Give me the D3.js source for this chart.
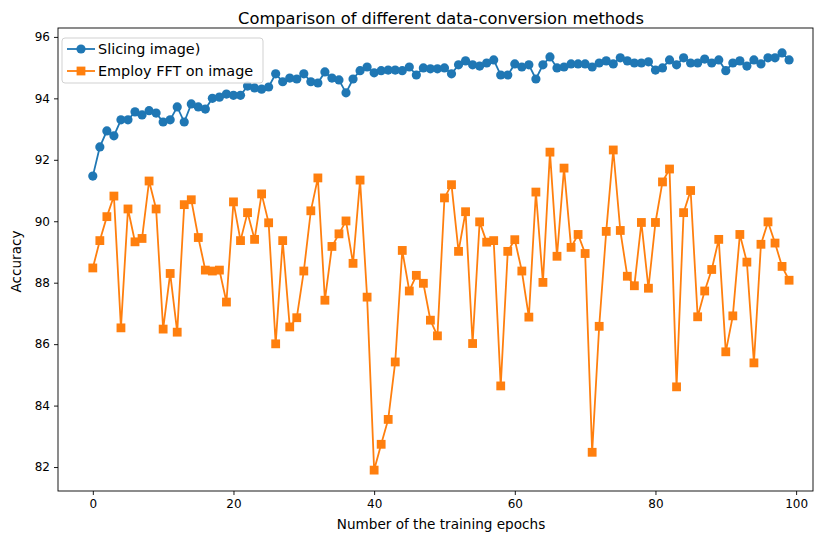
<!DOCTYPE html>
<html><head><meta charset="utf-8">
<script src="https://cdn.jsdelivr.net/npm/d3@7"></script>
<style>body{margin:0;background:#fff}svg{display:block}text{font-family:"DejaVu Sans",sans-serif;fill:#000}</style>
</head><body><svg id="c" width="815" height="534"></svg>
<script>
const epochs = d3.range(0, 100);
const slicing = [91.47,92.42,92.94,92.78,93.3,93.3,93.56,93.46,93.6,93.52,
93.23,93.3,93.72,93.23,93.82,93.72,93.65,94.0,94.04,94.14,
94.1,94.1,94.4,94.34,94.3,94.37,94.8,94.54,94.66,94.63,
94.8,94.54,94.5,94.86,94.66,94.6,94.18,94.63,94.9,95.02,
94.83,94.9,94.92,94.92,94.9,95.02,94.76,94.99,94.96,94.96,
94.99,94.8,95.09,95.22,95.09,95.05,95.15,95.25,94.76,94.76,
95.12,95.02,95.09,94.63,95.09,95.35,94.99,95.02,95.12,95.12,
95.12,95.02,95.15,95.22,95.12,95.32,95.22,95.15,95.15,95.19,
94.92,94.99,95.25,95.09,95.32,95.15,95.15,95.28,95.15,95.25,
94.9,95.15,95.22,95.05,95.25,95.12,95.32,95.32,95.48,95.25];
const fft = [88.48,89.37,90.15,90.82,86.53,90.4,89.33,89.44,91.31,90.4,
86.49,88.3,86.39,90.54,90.7,89.47,88.41,88.38,88.41,87.37,
90.63,89.37,90.28,89.41,90.89,89.95,86.01,89.37,86.56,86.86,
88.38,90.34,91.41,87.43,89.18,89.59,90.01,88.63,91.34,87.53,
81.9,82.74,83.55,85.42,89.05,87.73,88.24,87.98,86.78,86.27,
90.76,91.19,89.02,90.31,86.02,89.98,89.32,89.37,84.64,89.02,
89.4,88.38,86.88,90.95,88.01,92.25,88.86,91.73,89.15,89.57,
88.95,82.48,86.58,89.67,92.32,89.7,88.21,87.9,89.96,87.82,
89.96,91.28,91.7,84.61,90.28,91.0,86.89,87.73,88.43,89.41,
85.75,86.92,89.57,88.67,85.39,89.25,89.98,89.29,88.53,88.08];
const xTicks = [0,20,40,60,80,100];
const yTicks = [82,84,86,88,90,92,94,96];
const seriesNames = ["Slicing image)", "Employ FFT on image"];
const colors = ["#1f77b4", "#ff7f0e"];
const title = "Comparison of different data-conversion methods";
const xLabel = "Number of the training epochs";
const yLabel = "Accuracy";

const svg = d3.select("#c");
const L = 58, R = 813, T = 28, B = 491;
const x = d3.scaleLinear().domain([-4.95, 102.4]).range([L, R]);
const y = d3.scaleLinear().domain([81.22, 96.29]).range([B, T]);

const xAxis = svg.append("g").attr("transform", `translate(0,${B})`)
  .call(d3.axisBottom(x).tickValues(xTicks).tickSize(4).tickPadding(4).tickFormat(d3.format("d")));
const yAxis = svg.append("g").attr("transform", `translate(${L},0)`)
  .call(d3.axisLeft(y).tickValues(yTicks).tickSize(4).tickPadding(4).tickFormat(d3.format("d")));
[xAxis, yAxis].forEach(a => {
  a.select(".domain").remove();
  a.selectAll("text").attr("font-size", 12).attr("font-family", "DejaVu Sans").attr("fill", "#000");
  a.selectAll("line").attr("stroke", "#000").attr("stroke-width", 0.9);
});

const data = [slicing, fft];
data.forEach((vals, k) => {
  const g = svg.append("g");
  const line = d3.line().x((d, i) => x(epochs[i])).y(d => y(d));
  g.append("path").datum(vals).attr("d", line).attr("fill", "none")
    .attr("stroke", colors[k]).attr("stroke-width", 1.8);
  if (k === 0) {
    g.selectAll("circle").data(vals).join("circle")
      .attr("cx", (d, i) => x(epochs[i])).attr("cy", d => y(d)).attr("r", 4.6).attr("fill", colors[k]);
  } else {
    g.selectAll("rect").data(vals).join("rect")
      .attr("x", (d, i) => x(epochs[i]) - 4.4).attr("y", d => y(d) - 4.4)
      .attr("width", 8.8).attr("height", 8.8).attr("fill", colors[k]);
  }
});

svg.append("rect").attr("x", L).attr("y", T).attr("width", R - L).attr("height", B - T)
  .attr("fill", "none").attr("stroke", "#000").attr("stroke-width", 0.9);

// legend
const lg = svg.append("g").attr("transform", "translate(62,38)");
lg.append("rect").attr("width", 201).attr("height", 45).attr("rx", 3)
  .attr("fill", "rgba(255,255,255,0.8)").attr("stroke", "#ccc").attr("stroke-width", 0.9);
seriesNames.forEach((name, k) => {
  const cy = 11 + k * 22;
  lg.append("line").attr("x1", 5).attr("x2", 33).attr("y1", cy).attr("y2", cy)
    .attr("stroke", colors[k]).attr("stroke-width", 1.8);
  if (k === 0) lg.append("circle").attr("cx", 19).attr("cy", cy).attr("r", 4.6).attr("fill", colors[k]);
  else lg.append("rect").attr("x", 14.6).attr("y", cy - 4.4).attr("width", 8.8).attr("height", 8.8).attr("fill", colors[k]);
  lg.append("text").attr("x", 36).attr("y", cy + 5).attr("font-size", 14.4).text(name);
});

svg.append("text").attr("x", 441).attr("y", 24).attr("text-anchor", "middle")
  .attr("font-size", 16.3).text(title);
svg.append("text").attr("x", 441).attr("y", 529).attr("text-anchor", "middle")
  .attr("font-size", 13.6).text(xLabel);
svg.append("text").attr("transform", `translate(21,${(T + B) / 2 + 2}) rotate(-90)`).attr("text-anchor", "middle")
  .attr("font-size", 13.6).text(yLabel);
</script></body></html>
